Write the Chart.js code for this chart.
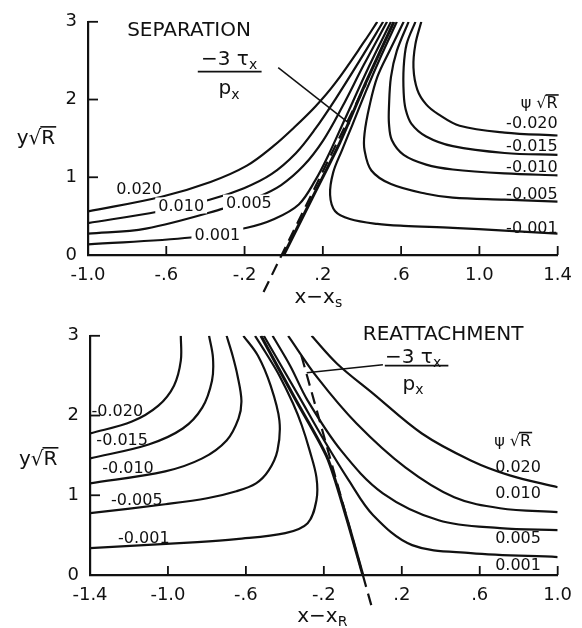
<!DOCTYPE html>
<html>
<head>
<meta charset="utf-8">
<script src="https://cdn.jsdelivr.net/npm/chart.js@4.4.1/dist/chart.umd.min.js"></script>
<style>
  html, body { margin: 0; padding: 0; background: #fff; }
  #wrap { position: relative; width: 582px; height: 628px; }
  canvas { position: absolute; left: 0; }
</style>
</head>
<body>
<div id="wrap">
  <canvas id="sep" width="582" height="314" style="top:0"></canvas>
  <canvas id="reat" width="582" height="314" style="top:314px"></canvas>
</div>
<script>
// ---------- tick values ----------
const sepXTicks = [-1.0, -0.6, -0.2, 0.2, 0.6, 1.0, 1.4];
const reatXTicks = [-1.4, -1.0, -0.6, -0.2, 0.2, 0.6, 1.0];
const yTicks = [0, 1, 2, 3];

// ---------- separation streamlines (x - xs, y sqrt R) ----------
const sepPos020 = [[-1.0,0.56],[-0.624,0.75],[-0.374,0.94],[-0.188,1.15],[-0.053,1.40],[0.047,1.625],[0.162,1.91],[0.263,2.21],[0.413,2.75],[0.478,3.0]];
const sepPos010 = [[-1.0,0.41],[-0.639,0.56],[-0.379,0.71],[-0.203,0.86],[-0.063,1.04],[0.062,1.31],[0.162,1.625],[0.263,2.0],[0.388,2.5],[0.508,3.0]];
const sepPos005 = [[-1.0,0.275],[-0.704,0.34],[-0.304,0.60],[-0.138,0.74],[-0.013,0.90],[0.102,1.15],[0.202,1.475],[0.298,1.9],[0.408,2.44],[0.528,3.0]];
const sepPos001 = [[-1.0,0.1375],[-0.474,0.225],[-0.188,0.35],[-0.048,0.4625],[0.077,0.65],[0.162,0.9625],[0.222,1.25],[0.313,1.75],[0.438,2.4375],[0.548,3.0]];
const sepZero   = [[0,0],[0.143,0.72],[0.286,1.44],[0.42,2.22],[0.563,3.0]];
const sepTau    = [[-0.103,-0.475],[0.42,2.2]];
const sepNeg001 = [[1.4,0.275],[1.129,0.3125],[0.864,0.35],[0.613,0.375],[0.478,0.40],[0.338,0.4625],[0.263,0.5625],[0.237,0.775],[0.253,1.0625],[0.298,1.35],[0.353,1.6875],[0.423,2.125],[0.498,2.5625],[0.578,3.0]];
const sepNeg005 = [[1.4,0.6875],[1.129,0.7125],[0.864,0.7375],[0.728,0.7875],[0.548,0.9125],[0.448,1.0875],[0.413,1.35],[0.413,1.5625],[0.438,1.9125],[0.478,2.2875],[0.548,2.6625],[0.613,3.0]];
const sepNeg010 = [[1.4,1.025],[1.129,1.05],[0.864,1.1],[0.728,1.1625],[0.613,1.2875],[0.553,1.475],[0.538,1.6875],[0.538,1.9125],[0.548,2.2875],[0.578,2.625],[0.638,3.0]];
const sepNeg015 = [[1.4,1.2875],[1.129,1.3125],[0.864,1.4],[0.728,1.525],[0.653,1.6875],[0.623,1.875],[0.613,2.0875],[0.613,2.4125],[0.628,2.7125],[0.673,3.0]];
const sepNeg020 = [[1.4,1.5375],[1.129,1.575],[0.899,1.6625],[0.789,1.8125],[0.728,1.9375],[0.683,2.125],[0.663,2.4125],[0.673,2.7125],[0.703,3.0]];
const sepLeader = [[-0.028,2.41],[0.338,1.6875]];

// ---------- reattachment streamlines (x - xR, y sqrt R) ----------
const reatNeg020 = [[-1.4,1.775],[-1.185,1.925],[-1.049,2.125],[-0.969,2.375],[-0.934,2.6875],[-0.934,3.0]];
const reatNeg015 = [[-1.4,1.4625],[-1.099,1.6375],[-0.924,1.8375],[-0.824,2.1],[-0.774,2.4375],[-0.769,2.725],[-0.789,3.0]];
const reatNeg010 = [[-1.4,1.15],[-1.014,1.3],[-0.824,1.4625],[-0.699,1.6875],[-0.638,1.9625],[-0.623,2.1875],[-0.643,2.5],[-0.668,2.75],[-0.699,3.0]];
const reatNeg005 = [[-1.4,0.775],[-1.014,0.8875],[-0.799,0.9625],[-0.649,1.05],[-0.548,1.15],[-0.483,1.3125],[-0.438,1.5625],[-0.428,1.9375],[-0.473,2.375],[-0.538,2.75],[-0.613,3.0]];
const reatNeg001 = [[-1.4,0.3375],[-0.849,0.4125],[-0.649,0.45],[-0.398,0.525],[-0.283,0.65],[-0.238,0.9375],[-0.238,1.225],[-0.273,1.5625],[-0.313,1.875],[-0.358,2.15],[-0.428,2.5],[-0.498,2.7875],[-0.553,3.0]];
const reatZero   = [[-0.523,3.0],[-0.348,2.2125],[-0.183,1.475],[-0.0875,0.75],[0,0]];
const reatTau    = [[-0.315,2.75],[0.053,-0.4625]];
const reatPos001 = [[-0.508,3.0],[-0.33,2.25],[-0.198,1.6875],[-0.072,1.1875],[0.053,0.75],[0.253,0.375],[0.554,0.275],[1.0,0.225]];
const reatPos005 = [[-0.463,3.0],[-0.373,2.625],[-0.283,2.1875],[-0.112,1.5625],[0.103,1.025],[0.389,0.6875],[0.704,0.5875],[1.0,0.5625]];
const reatPos010 = [[-0.383,3.0],[-0.233,2.475],[-0.032,1.9],[0.218,1.35],[0.469,0.975],[0.704,0.8375],[1.0,0.7875]];
const reatPos020 = [[-0.263,3.0],[-0.132,2.65],[0.053,2.275],[0.303,1.775],[0.554,1.4375],[0.754,1.25],[1.0,1.1]];
const reatLeader = [[0.103,2.6375],[-0.288,2.5375]];

// ---------- text annotations (data units) ----------
const sepLabels = [
  { t: '0.020', x: -0.739, y: 0.85 },
  { t: '0.010', x: -0.524, y: 0.6375, bg: true },
  { t: '0.005', x: -0.178, y: 0.675, bg: true },
  { t: '0.001', x: -0.339, y: 0.2625, bg: true },
  { t: '-0.020', x: 1.4, y: 1.70, align: 'right' },
  { t: '-0.015', x: 1.4, y: 1.406, align: 'right' },
  { t: '-0.010', x: 1.4, y: 1.13, align: 'right' },
  { t: '-0.005', x: 1.4, y: 0.7875, align: 'right' },
  { t: '-0.001', x: 1.4, y: 0.344, align: 'right' }
];
const reatLabels = [
  { t: '-0.020', x: -1.26, y: 2.06 },
  { t: '-0.015', x: -1.235, y: 1.69 },
  { t: '-0.010', x: -1.205, y: 1.35 },
  { t: '-0.005', x: -1.16, y: 0.94 },
  { t: '-0.001', x: -1.124, y: 0.46 },
  { t: '0.020', x: 0.679, y: 1.36, align: 'left' },
  { t: '0.010', x: 0.679, y: 1.025, align: 'left' },
  { t: '0.005', x: 0.679, y: 0.4625, align: 'left' },
  { t: '0.001', x: 0.679, y: 0.125, align: 'left' }
];

const FONT = '"DejaVu Sans", sans-serif';
const ink = '#111';

function curve(data, extra) {
  return Object.assign({
    data: data.map(p => ({ x: p[0], y: p[1] })),
    showLine: true,
    borderColor: ink,
    borderWidth: 2.2,
    pointRadius: 0,
    tension: 0.35
  }, extra || {});
}

function fmtX(v) {
  const s = Number(v).toFixed(1);
  return Math.abs(v) < 1 ? s.replace('0.', '.') : s;
}

// draw text made of runs: [text, mode] where mode is '', 'sub' or 'over'
function drawRuns(ctx, parts, x, y, size, align) {
  const sub = Math.round(size * 0.7);
  const widths = parts.map(([t, m]) => {
    ctx.font = (m === 'sub' ? sub : size) + 'px ' + FONT;
    return ctx.measureText(t).width;
  });
  const w = widths.reduce((a, b) => a + b, 0);
  let cx = align === 'left' ? x : align === 'right' ? x - w : x - w / 2;
  const base = y + size * 0.36;
  ctx.textAlign = 'left';
  ctx.textBaseline = 'alphabetic';
  parts.forEach(([t, m], i) => {
    ctx.font = (m === 'sub' ? sub : size) + 'px ' + FONT;
    ctx.fillText(t, cx, m === 'sub' ? base + size * 0.22 : base);
    if (m === 'over') {
      ctx.lineWidth = 1.6;
      ctx.beginPath();
      ctx.moveTo(cx - 1, base - size * 0.84);
      ctx.lineTo(cx + widths[i] + 1, base - size * 0.84);
      ctx.stroke();
    }
    cx += widths[i];
  });
}

const notesPlugin = {
  id: 'notes',
  afterDraw(chart, args, opts) {
    const ctx = chart.ctx;
    const xs = chart.scales.x, ys = chart.scales.y;
    const px = v => xs.getPixelForValue(v), py = v => ys.getPixelForValue(v);
    ctx.save();
    ctx.fillStyle = ink;
    ctx.strokeStyle = ink;

    // inward tick marks
    ctx.lineWidth = 1.8;
    xs.ticks.forEach(t => {
      if (t.value === xs.min) return;
      ctx.beginPath();
      ctx.moveTo(px(t.value), py(0));
      ctx.lineTo(px(t.value), py(0) - 9);
      ctx.stroke();
    });
    ys.ticks.forEach(t => {
      if (t.value === ys.min) return;
      ctx.beginPath();
      ctx.moveTo(px(xs.min), py(t.value));
      ctx.lineTo(px(xs.min) + 10, py(t.value));
      ctx.stroke();
    });

    // streamline labels
    (opts.labels || []).forEach(l => {
      ctx.font = '16px ' + FONT;
      const w = ctx.measureText(l.t).width;
      const a = l.align || 'center';
      const x0 = a === 'left' ? px(l.x) : a === 'right' ? px(l.x) - w : px(l.x) - w / 2;
      if (l.bg) {
        ctx.fillStyle = '#fff';
        ctx.fillRect(x0 - 3, py(l.y) - 8, w + 6, 16);
        ctx.fillStyle = ink;
      }
      ctx.textAlign = 'left';
      ctx.textBaseline = 'middle';
      ctx.fillText(l.t, x0, py(l.y) + 1);
    });

    // headings, axis titles, fraction
    (opts.texts || []).forEach(t => {
      drawRuns(ctx, t.parts, px(t.x), py(t.y), t.size, t.align || 'center');
    });
    (opts.fracs || []).forEach(f => {
      drawRuns(ctx, [['\u22123 \u03c4', ''], ['x', 'sub']], px(f.x), py(f.num), 20, 'center');
      ctx.lineWidth = 1.8;
      ctx.beginPath();
      ctx.moveTo(px(f.x0), py(f.bar));
      ctx.lineTo(px(f.x1), py(f.bar));
      ctx.stroke();
      drawRuns(ctx, [['p', ''], ['x', 'sub']], px(f.x), py(f.den), 20, 'center');
    });
    ctx.restore();
  }
};

function makeChart(id, xMin, xMax, xTicks, datasets, pad, yWidth, xHeight, notes) {
  return new Chart(document.getElementById(id), {
    type: 'scatter',
    data: { datasets },
    plugins: [notesPlugin],
    options: {
      responsive: false,
      animation: false,
      layout: { padding: pad },
      plugins: {
        legend: { display: false },
        tooltip: { enabled: false },
        notes
      },
      scales: {
        x: {
          type: 'linear', min: xMin, max: xMax,
          afterBuildTicks: s => { s.ticks = xTicks.map(v => ({ value: v })); },
          afterFit: s => { s.height = xHeight; },
          grid: { display: false, drawTicks: false },
          border: { display: true, color: ink, width: 2.2 },
          ticks: {
            callback: v => fmtX(v), color: ink, padding: 10,
            maxRotation: 0, autoSkip: false,
            font: { family: FONT, size: 18 }
          }
        },
        y: {
          type: 'linear', min: 0, max: 3,
          afterBuildTicks: s => { s.ticks = yTicks.map(v => ({ value: v })); },
          afterFit: s => { s.width = yWidth; },
          grid: { display: false, drawTicks: false },
          border: { display: true, color: ink, width: 2.2 },
          ticks: {
            color: ink, padding: 11,
            font: { family: FONT, size: 18 }
          }
        }
      }
    }
  });
}

makeChart('sep', -1.0, 1.4, sepXTicks, [
  curve(sepPos020), curve(sepPos010), curve(sepPos005), curve(sepPos001),
  curve(sepZero, { borderWidth: 3, tension: 0.2 }),
  curve(sepTau, { borderDash: [12, 7], borderWidth: 2.2, tension: 0, clip: false }),
  curve(sepNeg001), curve(sepNeg005), curve(sepNeg010), curve(sepNeg015), curve(sepNeg020),
  curve(sepLeader, { borderWidth: 1.5, tension: 0, clip: false })
], { left: 0, top: 15, right: 15, bottom: 0 }, 88, 59, {
  labels: sepLabels,
  texts: [
    { parts: [['SEPARATION', '']], x: -0.80, y: 2.91, size: 20, align: 'left' },
    { parts: [['\u03c8 \u221a', ''], ['R', 'over']], x: 1.4, y: 1.96, size: 16, align: 'right' },
    { parts: [['y\u221a', ''], ['R', 'over']], x: -1.266, y: 1.525, size: 20 },
    { parts: [['x\u2212x', ''], ['s', 'sub']], x: 0.177, y: -0.525, size: 20 }
  ],
  fracs: [{ x: -0.279, num: 2.54, bar: 2.36, den: 2.16, x0: -0.439, x1: -0.113 }]
});

makeChart('reat', -1.4, 1.0, reatXTicks, [
  curve(reatNeg020), curve(reatNeg015), curve(reatNeg010), curve(reatNeg005), curve(reatNeg001),
  curve(reatZero, { borderWidth: 3, tension: 0.25 }),
  curve(reatTau, { borderDash: [12, 7], borderWidth: 2.2, tension: 0, clip: false }),
  curve(reatPos001), curve(reatPos005), curve(reatPos010), curve(reatPos020),
  curve(reatLeader, { borderWidth: 1.5, tension: 0, clip: false })
], { left: 0, top: 21, right: 13, bottom: 0 }, 90, 53, {
  labels: reatLabels,
  texts: [
    { parts: [['REATTACHMENT', '']], x: 0.0, y: 3.04, size: 20, align: 'left' },
    { parts: [['\u03c8 \u221a', ''], ['R', 'over']], x: 0.769, y: 1.69, size: 16 },
    { parts: [['y\u221a', ''], ['R', 'over']], x: -1.666, y: 1.475, size: 20 },
    { parts: [['x\u2212x', ''], ['R', 'sub']], x: -0.208, y: -0.5, size: 20 }
  ],
  fracs: [{ x: 0.258, num: 2.75, bar: 2.625, den: 2.41, x0: 0.113, x1: 0.439 }]
});
</script>
</body>
</html>
